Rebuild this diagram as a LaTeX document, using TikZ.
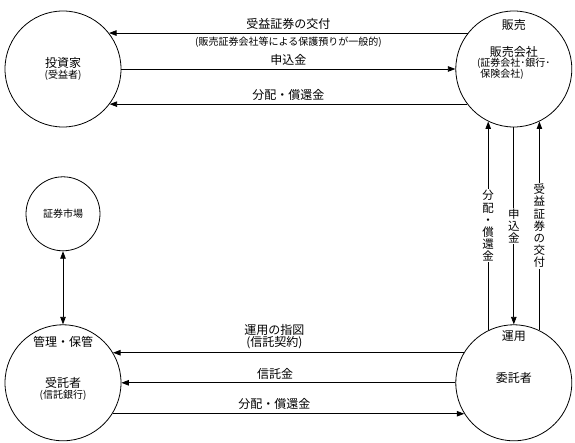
\documentclass[tikz,border=0pt]{standalone}
\usepackage{fontspec}
\setmainfont{Noto Sans CJK JP}
\usepackage{tikz}
\usetikzlibrary{positioning}
\usetikzlibrary{arrows.meta}
\tikzstyle{party} = [draw,circle,line width=0.8pt,minimum size=116pt,inner sep=0pt,align=center]
\tikzstyle{arrow} = [line width=0.8pt,-{Triangle[length=7.5pt,width=5.5pt]}]
\tikzstyle{twoway} = [line width=0.8pt,{Triangle[length=7.5pt,width=5.5pt]}-{Triangle[length=7.5pt,width=5.5pt]}]
\tikzstyle{vlabel} = [midway,fill=white,inner sep=1pt,align=center,font=\fontsize{11.5}{12.2}\selectfont]
\newcommand{\smalltxt}{\fontsize{10}{11}\selectfont}

\begin{document}
\begin{tikzpicture}[x=1pt,y=-1pt,font=\fontsize{12}{13}\selectfont]
	\useasboundingbox (0,0) rectangle (575,443);
	%Nodes
	\node [party] at (63,69) (inv) {投資家\\[-2pt]{\smalltxt (受益者)}};
	\node [party, right=334pt of inv] (sales) {};
	\node [below=5pt of sales.north] (salestag) {販売};
	\node [align=center] at ([yshift=5pt]sales.center) (salesname) {販売会社\\[-1pt]{\smalltxt\begin{tabular}{@{}l@{}}(証券会社･銀行･\\\hphantom{(}保険会社)\end{tabular}}};
	
	\node [party, minimum size=74pt, below=49pt of inv] (market) {\smalltxt 証券市場};
	
	\node [party, below=197pt of inv] (trustee) {};
	\node [below=8pt of trustee.north] (trusteetag) {管理・保管};
	\node [align=center] at ([yshift=-6pt]trustee.center) (trusteename) {受託者\\[-2pt]{\smalltxt (信託銀行)}};
	
	\node [party, right=334pt of trustee] (trustor) {};
	\node [below=3pt of trustor.north] (trustortag) {運用};
	\node at ([yshift=5pt]trustor.center) (trustorname) {委託者};
	
	%Lines
	\draw[arrow] (sales.142) -- node[above] {受益証券の交付} node[below] {\smalltxt (販売証券会社等による保護預りが一般的)} (inv.38);
	\draw[arrow] (inv.east) -- node[above] {申込金} (sales.west);
	\draw[arrow] (sales.217) -- node[above] {分配・償還金} (inv.-37);
	
	\draw[arrow] (trustor.116) -- node[vlabel] {分\\配\\・\\償\\還\\金} (sales.244);
	\draw[arrow] (sales.south) -- node[vlabel] {申\\込\\金} (trustor.north);
	\draw[arrow] (trustor.64) -- node[vlabel] {受\\益\\証\\券\\の\\交\\付} (sales.296);
	
	\draw[twoway] (market) -- (trustee);
	
	\draw[arrow] (trustor.149) -- node[above,pos=0.54,align=center] {運用の指図\\[-1pt](信託契約)} (trustee.31);
	\draw[arrow] (trustor.west) -- node[above,pos=0.54] {信託金} (trustee.east);
	\draw[arrow] (trustee.-32) -- node[above,pos=0.46] {分配・償還金} (trustor.212);
\end{tikzpicture}
\end{document}
